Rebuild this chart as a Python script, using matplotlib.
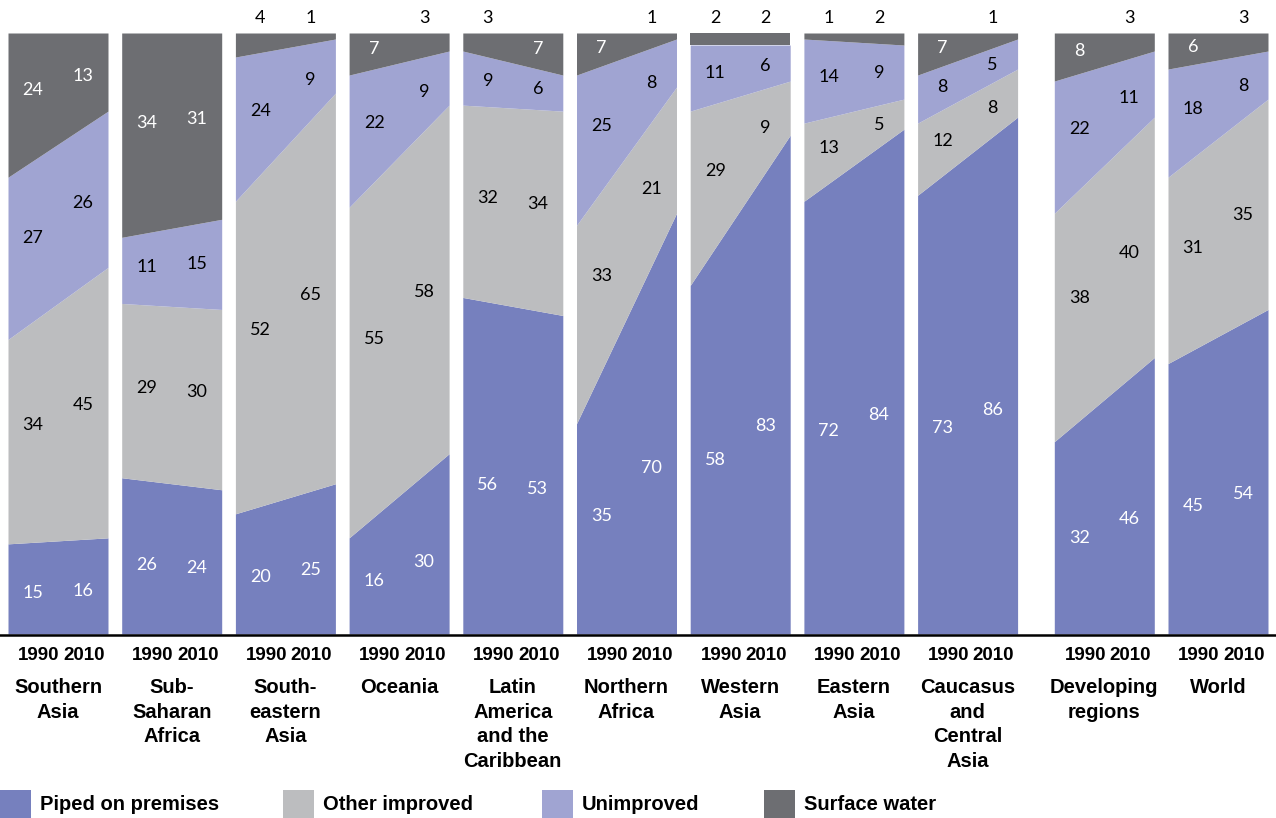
import matplotlib
matplotlib.use("Agg")
import matplotlib.pyplot as plt
from matplotlib.lines import Line2D
from matplotlib.patches import Rectangle
import numpy as np

plt.rcParams['font.family'] = ['Lato', 'DejaVu Sans']
BOLD = ['Liberation Sans', 'DejaVu Sans']

regions = ['Southern\nAsia', 'Sub-\nSaharan\nAfrica', 'South-\neastern\nAsia', 'Oceania',
           'Latin\nAmerica\nand the\nCaribbean', 'Northern\nAfrica', 'Western\nAsia',
           'Eastern\nAsia', 'Caucasus\nand\nCentral\nAsia', 'Developing\nregions', 'World']
years = ['1990', '2010']
categories = ['Piped on premises', 'Other improved', 'Unimproved', 'Surface water']

# values per region: [piped, other improved, unimproved, surface water]
v1990 = [[15, 34, 27, 24], [26, 29, 11, 34], [20, 52, 24, 4], [16, 55, 22, 7],
         [56, 32, 9, 3], [35, 33, 25, 7], [58, 29, 11, 2], [72, 13, 14, 1],
         [73, 12, 8, 7], [32, 38, 22, 8], [45, 31, 18, 6]]
v2010 = [[16, 45, 26, 13], [24, 30, 15, 31], [25, 65, 9, 1], [30, 58, 9, 3],
         [53, 34, 6, 7], [70, 21, 8, 1], [83, 9, 6, 2], [84, 5, 9, 2],
         [86, 8, 5, 1], [46, 40, 11, 3], [54, 35, 8, 3]]

colors = ['#7680BE', '#BCBDBF', '#A0A4D2', '#6D6E72']
text_colors = ['white', 'black', 'black', 'white']
label_frac = [0.45, 0.53, 0.52, 0.55]

W, H = 1276, 818
fig = plt.figure(figsize=(W / 100, H / 100), dpi=100)

top, bottom = 33, 634
pw = 100
lefts = []
x = 8
for i in range(len(regions)):
    if i == 9:
        x += 23
    lefts.append(x)
    x += 113.7

lab_x = [0.25, 0.75]

for i, reg in enumerate(regions):
    ax = fig.add_axes([lefts[i] / W, 1 - bottom / H, pw / W, (bottom - top) / H])
    a = np.array(v1990[i], float)
    b = np.array(v2010[i], float)
    ca = np.concatenate([[0], np.cumsum(a)])
    cb = np.concatenate([[0], np.cumsum(b)])
    xs = [0, 1]
    for k in range(4):
        ax.fill_between(xs, [ca[k], cb[k]], [ca[k + 1], cb[k + 1]],
                        color=colors[k], lw=0)
    for vals, lx in zip([a, b], lab_x):
        for k in range(4):
            lo = ca[k] + (cb[k] - ca[k]) * lx
            hi = ca[k + 1] + (cb[k + 1] - ca[k + 1]) * lx
            val = int(vals[k])
            if k == 3 and val < 5:
                ax.text(lx, 102.5, str(val), ha='center', va='center',
                        fontsize=13, color='black', clip_on=False)
            else:
                yy = lo + label_frac[k] * (hi - lo)
                ax.text(lx, yy, str(val), ha='center', va='center',
                        fontsize=13, color=text_colors[k])
    ax.set_xlim(0, 1)
    ax.set_ylim(0, 100)
    ax.axis('off')

    cx = (lefts[i] + pw / 2) / W
    fig.text((lefts[i] + 0.31 * pw) / W, 1 - 656 / H, years[0], ha='center', va='center',
             fontsize=13.5, fontweight='bold', family=BOLD)
    fig.text((lefts[i] + 0.76 * pw) / W, 1 - 656 / H, years[1], ha='center', va='center',
             fontsize=13.5, fontweight='bold', family=BOLD)
    fig.text(cx, 1 - 678 / H, reg, ha='center', va='top', fontsize=14.5,
             fontweight='bold', family=BOLD, linespacing=1.38)

fig.add_artist(Line2D([0, 1], [1 - bottom / H - 0.001, 1 - bottom / H - 0.001],
                      color='black', lw=1.8, transform=fig.transFigure))

leg_x = [0, 283, 542, 764]
for k, cat in enumerate(categories):
    fig.add_artist(Rectangle((leg_x[k] / W, 1 - 820 / H), 31 / W, 30 / H,
                             color=colors[k], transform=fig.transFigure, lw=0))
    fig.text((leg_x[k] + 40) / W, 1 - 805 / H, cat, ha='left', va='center',
             fontsize=14.5, fontweight='bold', family=BOLD)

fig.savefig('out.png', dpi=100)
